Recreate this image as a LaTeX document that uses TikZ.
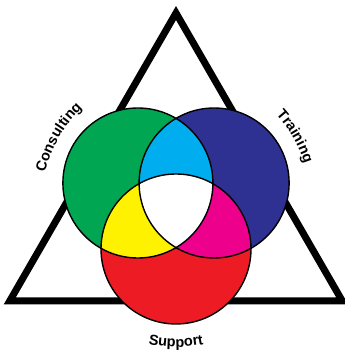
\documentclass[tikz,border=0pt]{standalone}
\usepackage{fontspec}
\setsansfont{Liberation Sans}
\usepackage{tikz}
\usetikzlibrary{decorations.text}
\usepackage{xcolor}
\definecolor{vgreen}{HTML}{00A651}
\definecolor{vblue}{HTML}{2E3192}
\definecolor{vred}{HTML}{ED1C24}
\definecolor{vcyan}{HTML}{00AEEF}
\definecolor{vyellow}{HTML}{FFF200}
\definecolor{vmagenta}{HTML}{EC008C}
\newcommand{\lblfont}{\sffamily\bfseries\fontsize{14.5}{15}\selectfont}

\begin{document}
\begin{tikzpicture}[x=1pt, y=1pt,
   tri/.style={draw=black, line width=7pt, line join=miter},
   ring/.style={draw=black, line width=1.4pt},
   lbl/.style={decorate, decoration={text along path, text align=center, text color=black}}]
  \useasboundingbox (0,0) rectangle (345,351);
  \coordinate (ctr) at (176,146);
  % triangle
  \coordinate (top) at (176,338);
  \coordinate (bl) at (9.7,50);
  \coordinate (br) at (342.3,50);
  \draw[tri] (top) -- (bl) -- (br) -- cycle;
  % circle centres
  \coordinate (cg) at ([shift={(150:44)}]ctr);
  \coordinate (cb) at ([shift={(30:44)}]ctr);
  \coordinate (cr) at ([shift={(-90:44)}]ctr);
  \fill[vgreen] (cg) circle[radius=75];
  \fill[vblue] (cb) circle[radius=75];
  \fill[vred] (cr) circle[radius=75];
  % overlaps
  \begin{scope}
    \clip (cg) circle[radius=75];
    \fill[vcyan] (cb) circle[radius=75];
    \fill[vyellow] (cr) circle[radius=75];
  \end{scope}
  \begin{scope}
    \clip (cb) circle[radius=75];
    \fill[vmagenta] (cr) circle[radius=75];
    \clip (cr) circle[radius=75];
    \fill[white] (cg) circle[radius=75];
  \end{scope}
  \draw[ring] (cg) circle[radius=75];
  \draw[ring] (cb) circle[radius=75];
  \draw[ring] (cr) circle[radius=75];
  % labels
  \path[lbl, decoration={text={|\lblfont|Consulting}}]
    ([shift={(172:135)}]ctr) arc[start angle=172, end angle=128, radius=135];
  \path[lbl, decoration={text={|\lblfont|Training}}]
    ([shift={(52:135)}]ctr) arc[start angle=52, end angle=8, radius=135];
  \path[lbl, decoration={text={|\lblfont|Support}}]
    ([shift={(-108:142)}]ctr) arc[start angle=-108, end angle=-72, radius=142];
\end{tikzpicture}
\end{document}
